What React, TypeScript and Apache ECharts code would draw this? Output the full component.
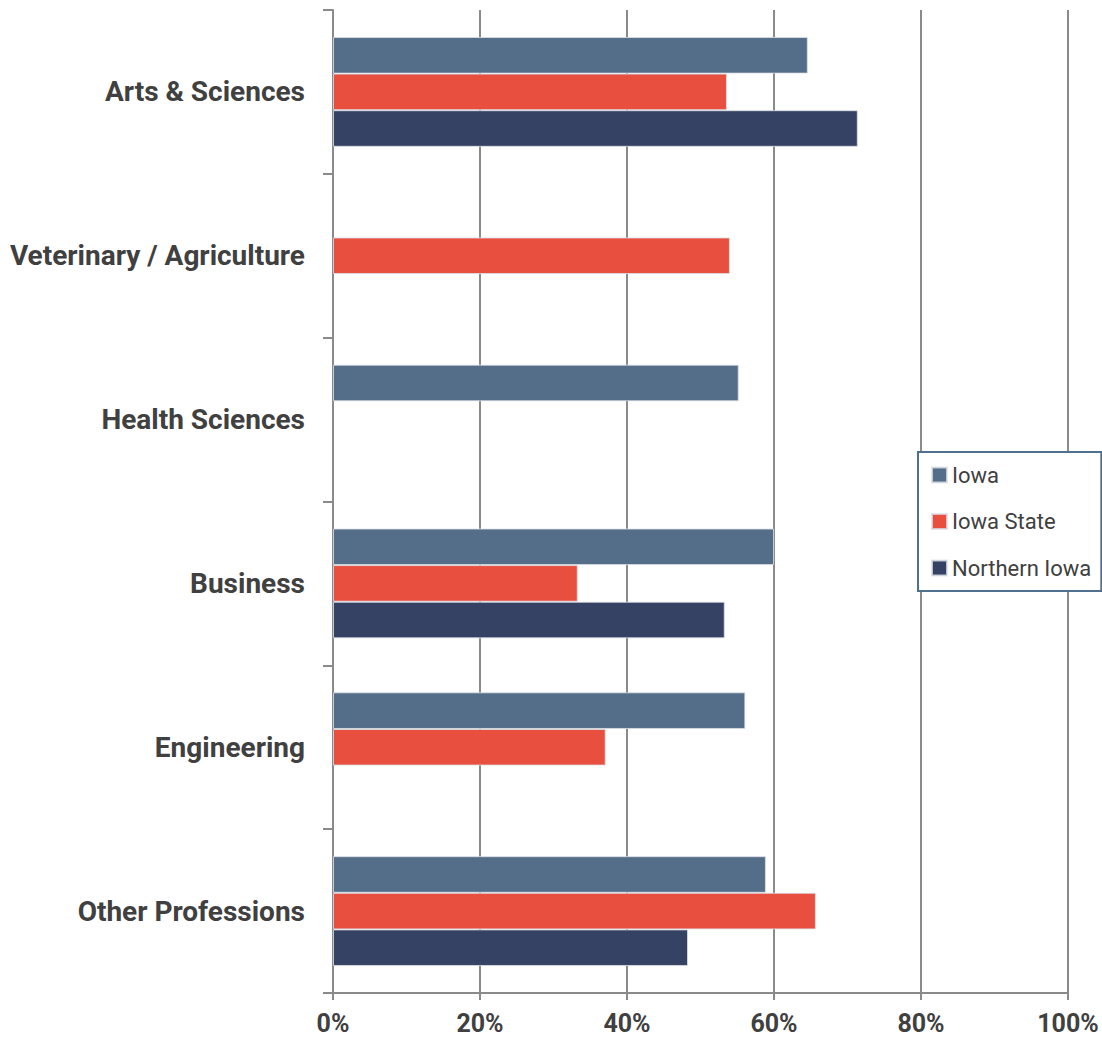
import React, { useEffect, useRef } from "react";
import * as echarts from "echarts";

const categories = [
  "Arts & Sciences",
  "Veterinary / Agriculture",
  "Health Sciences",
  "Business",
  "Engineering",
  "Other Professions",
];
const seriesNames = ["Iowa", "Iowa State", "Northern Iowa"];
const iowa = [64.6, null, 55.2, 60.0, 56.1, 58.9];
const iowaState = [53.6, 54.0, null, 33.3, 37.1, 65.7];
const northernIowa = [71.4, null, null, 53.3, null, 48.3];
const xTicks = [0, 20, 40, 60, 80, 100];
const colors = ["#546d89", "#e84f3e", "#364263"];

export default function App() {
  const ref = useRef<HTMLDivElement>(null);
  useEffect(() => {
    document.body.style.margin = "0";
    document.body.style.overflow = "hidden";
    if (!ref.current) return;
    const chart = echarts.init(ref.current, undefined, { renderer: "svg" });
    const font = "Roboto, 'Liberation Sans', Arial, sans-serif";
    const values = [iowa, iowaState, northernIowa];
    chart.setOption({
      animation: false,
      backgroundColor: "#ffffff",
      grid: { left: 333, right: 34, top: 10, bottom: 48, containLabel: false },
      legend: {
        orient: "vertical",
        left: 918,
        top: 452,
        data: seriesNames,
        icon: "rect",
        itemWidth: 15,
        itemHeight: 15,
        itemGap: 24.5,
        padding: [12, 10, 12, 13],
        borderColor: "#50708f",
        borderWidth: 2,
        backgroundColor: "#ffffff",
        textStyle: { fontFamily: font, fontSize: 22, color: "#404040", lineHeight: 22 },
      },
      xAxis: {
        type: "value",
        min: xTicks[0],
        max: xTicks[xTicks.length - 1],
        interval: 20,
        axisLine: { show: true, lineStyle: { color: "#8a8a8a", width: 2 } },
        axisTick: { show: true, length: 7, lineStyle: { color: "#8a8a8a", width: 2 } },
        splitLine: { show: true, lineStyle: { color: "#8a8a8a", width: 2 } },
        axisLabel: {
          formatter: "{value}%",
          margin: 18,
          fontFamily: font,
          fontWeight: "bold",
          fontSize: 25,
          color: "#404040",
        },
      },
      yAxis: {
        type: "category",
        inverse: true,
        data: categories,
        axisLine: { show: true, lineStyle: { color: "#8a8a8a", width: 2 } },
        axisTick: { show: true, length: 10, lineStyle: { color: "#8a8a8a", width: 2 } },
        splitLine: { show: false },
        axisLabel: {
          margin: 28,
          fontFamily: font,
          fontWeight: "bold",
          fontSize: 28,
          color: "#404040",
        },
      },
      series: seriesNames.map((name, i) => ({
        name,
        type: "bar",
        data: values[i],
        barGap: "0%",
        barCategoryGap: "33%",
        itemStyle: { color: colors[i], borderColor: "rgba(220,224,230,0.8)", borderWidth: 1 },
      })),
    });
    return () => chart.dispose();
  }, []);
  return <div ref={ref} style={{ width: 1102, height: 1041 }} />;
}
